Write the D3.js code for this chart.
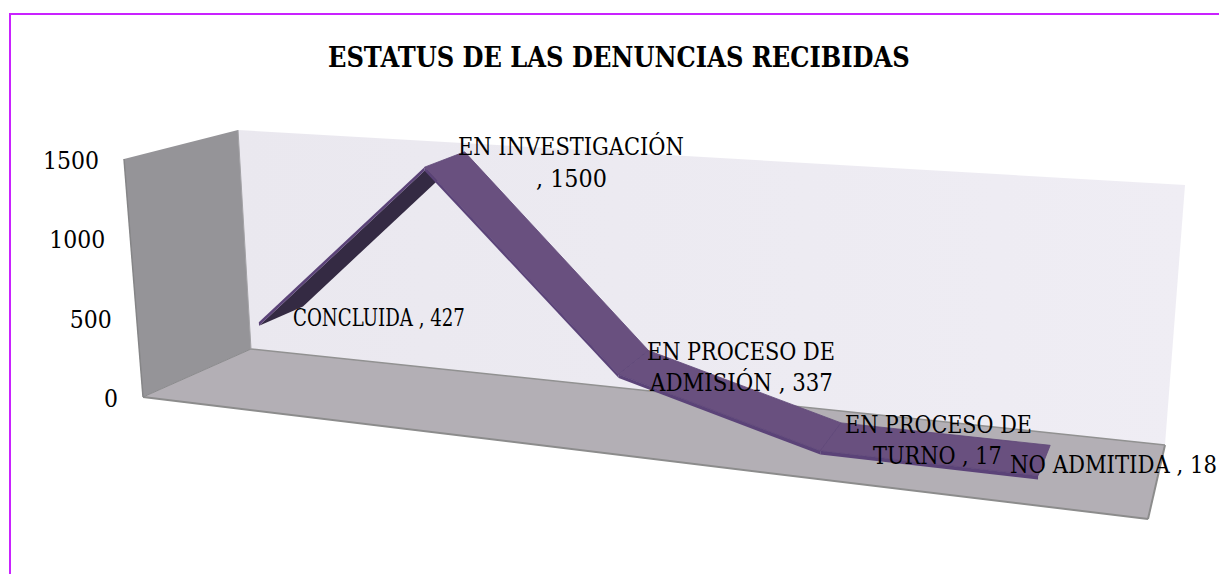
<!DOCTYPE html>
<html><head><meta charset="utf-8">
<script src="https://cdnjs.cloudflare.com/ajax/libs/d3/7.8.5/d3.min.js"></script>
<style>html,body{margin:0;padding:0;background:#fff;overflow:hidden}svg{display:block}</style>
</head><body><svg id="c" width="1219" height="574"></svg>
<script>
const categories = ["CONCLUIDA", "EN INVESTIGACIÓN", "EN PROCESO DE ADMISIÓN", "EN PROCESO DE TURNO", "NO ADMITIDA"];
const values = [427, 1500, 337, 17, 18];
const tickValues = [0, 500, 1000, 1500];
const chartTitle = "ESTATUS DE LAS DENUNCIAS RECIBIDAS";

// data-label layout: [lines], each with left x, baseline y, and width in px
const labelLayout = [
  [["CONCLUIDA , 427", 293, 326, 172]],
  [["EN INVESTIGACIÓN", 458, 155, 226], [", 1500", 536, 187, 71]],
  [["EN PROCESO DE", 647, 360, 188], ["ADMISIÓN , 337", 650, 391, 183]],
  [["EN PROCESO DE", 845, 433, 187], ["TURNO , 17", 873, 464, 129]],
  [["NO ADMITIDA , 18", 1010, 473, 207]]
];

// box corners of the 3D plot on the page
const box = {
  fl0: [143, 397], bl0: [251, 349], br0: [1165, 445], fr0: [1148, 519],
  fl1: [124, 159], bl1: [238, 130], br1: [1185, 185], fr1: [1150, 240]
};
const perspective = 0.22;

const svg = d3.select("#c");
const defs = svg.append("defs");
const g2 = defs.append("linearGradient").attr("id","back").attr("x1",0).attr("x2",1).attr("y1",0).attr("y2",0);
g2.append("stop").attr("offset",0).attr("stop-color","#eae8ef");
g2.append("stop").attr("offset",1).attr("stop-color","#efedf4");

const xScale = d3.scalePoint().domain(categories).range([0, 1]).padding(0.5);
const yScale = d3.scaleLinear().domain([0, 1500]).range([0, 1]);
const lerp = (a, b, t) => [a[0] + (b[0] - a[0]) * t, a[1] + (b[1] - a[1]) * t];

// u in [0,1] along the category axis, d in [0,1] depth, v in [0,1] height
function project(u, d, v) {
  const up = u / (1 + perspective * (1 - u));
  const floorPt = lerp(lerp(box.fl0, box.bl0, d), lerp(box.fr0, box.br0, d), up);
  const topPt = lerp(lerp(box.fl1, box.bl1, d), lerp(box.fr1, box.br1, d), up);
  return lerp(floorPt, topPt, v);
}
const poly = pts => "M" + pts.map(p => p[0].toFixed(1) + "," + p[1].toFixed(1)).join("L") + "Z";

// frame
svg.append("path").attr("d", "M10,574V14H1219").attr("fill", "none").attr("stroke", "#c922ff").attr("stroke-width", 2);

// walls
svg.append("path").attr("d", poly([box.bl0, box.bl1, box.br1, box.br0])).attr("fill", "url(#back)");
svg.append("path").attr("d", poly([box.fl0, box.fl1, box.bl1, box.bl0])).attr("fill", "#959498");
svg.append("path").attr("d", poly([box.fl0, box.bl0, box.br0, box.fr0])).attr("fill", "#b3afb5");
const edge = (a, b, w, c) => svg.append("path").attr("d", "M" + a + "L" + b).attr("stroke", c).attr("stroke-width", w).attr("fill", "none");
edge(box.fl0, box.fr0, 2, "#8c8c8c");
edge(box.fr0, box.br0, 2, "#8c8c8c");
edge(box.bl0, box.br0, 1.5, "#919191");
edge(box.fl0, box.bl0, 1, "#8a8a8c");
edge(box.fl0, box.fl1, 1.5, "#858587");
edge(box.bl0, box.bl1, 1, "#a3a2a6");

// ribbon
const depthFront = 0.36, depthBack = 0.79, thick = yScale(22), risingOnly = yScale(50);
const P = categories.map((c, i) => ({ u: xScale(c), v: yScale(values[i]) }));
const ribbon = svg.append("g");
d3.pairs(P).forEach(([a, b]) => {
  const f0 = project(a.u, depthFront, a.v), f1 = project(b.u, depthFront, b.v);
  const b0 = project(a.u, depthBack, a.v), b1 = project(b.u, depthBack, b.v);
  const f0l = project(a.u, depthFront, a.v - thick), f1l = project(b.u, depthFront, b.v - thick);
  const b0l = project(a.u, depthBack, a.v - thick), b1l = project(b.u, depthBack, b.v - thick);
  if (b.v - a.v > risingOnly) {
    ribbon.append("path").attr("d", poly([f0l, f1l, b1l, b0l])).attr("fill", "#342a43");
  } else {
    ribbon.append("path").attr("d", poly([f0, f1, b1, b0])).attr("fill", "#69507f")
      .attr("stroke", "#5f4778").attr("stroke-width", 0.8);
  }
  ribbon.append("path").attr("d", poly([f0, f1, f1l, f0l])).attr("fill", "#5b4378");
});

// text squeezed horizontally to the reference's width
const font = "'DejaVu Serif Condensed', 'DejaVu Serif', serif";
function fitText(t, x, y, w, size, weight) {
  const el = svg.append("text").attr("font-family", font).attr("font-size", size)
    .attr("font-weight", weight || "normal").attr("fill", "#000").text(t);
  const natural = el.node().getComputedTextLength();
  el.attr("transform", `translate(${x},${y}) scale(${w / natural},1)`);
  return el;
}

// y tick labels
tickValues.forEach(d => {
  const p = project(0, 0, yScale(d));
  const w = String(d).length * 14;
  fitText(String(d), p[0] - 25 - w, p[1] + 10, w, 24);
});

// data labels
labelLayout.forEach(lines => lines.forEach(([t, x, y, w]) => fitText(t, x, y, w, 24)));

// title
fitText(chartTitle, 328, 67, 582, 27, "bold");
</script></body></html>
